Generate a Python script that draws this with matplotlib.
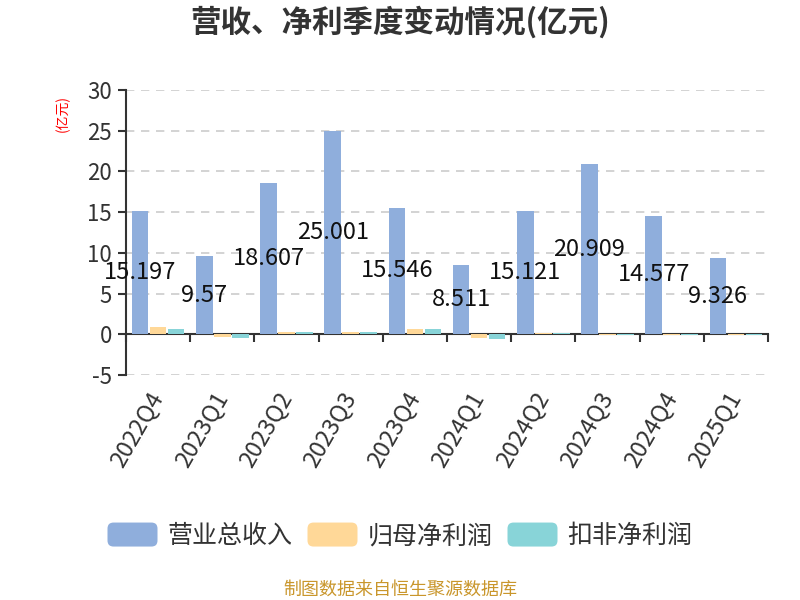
import matplotlib
matplotlib.use("Agg")
import matplotlib.pyplot as plt
import numpy as np
from matplotlib.patches import FancyBboxPatch, Patch
from matplotlib.legend_handler import HandlerPatch

plt.rcParams['font.family'] = ['Noto Sans CJK SC', 'DejaVu Sans']

categories = ["2022Q4", "2023Q1", "2023Q2", "2023Q3", "2023Q4",
              "2024Q1", "2024Q2", "2024Q3", "2024Q4", "2025Q1"]
revenue = [15.197, 9.57, 18.607, 25.001, 15.546, 8.511, 15.121, 20.909, 14.577, 9.326]
net_profit = [0.90, -0.37, 0.28, 0.30, 0.65, -0.45, 0.15, -0.08, -0.08, -0.06]
deducted_profit = [0.65, -0.45, 0.22, 0.25, 0.60, -0.55, 0.10, -0.05, -0.06, -0.08]
series_names = ["营业总收入", "归母净利润", "扣非净利润"]
colors = ["#8FAEDC", "#FFD898", "#88D4D8"]
yticks = [-5, 0, 5, 10, 15, 20, 25, 30]


class RoundHandler(HandlerPatch):
    def create_artists(self, legend, orig_handle, xdescent, ydescent, width,
                       height, fontsize, trans):
        r = min(width, height) * 0.25
        p = FancyBboxPatch((-xdescent + r, -ydescent + r), width - 2 * r, height - 2 * r,
                           boxstyle=f"round,pad={r}", facecolor=orig_handle.get_facecolor(),
                           edgecolor='none', transform=trans)
        return [p]


fig = plt.figure(figsize=(8, 6), dpi=100)
ax = fig.add_axes([0.1575, 0.375, 0.8025, 0.475])

x = np.arange(len(categories))
w = 0.26
offs = [-0.28, 0.0, 0.28]
for vals, off, c in zip([revenue, net_profit, deducted_profit], offs, colors):
    ax.bar(x + off, vals, width=w, color=c, zorder=3)

for xi, v in zip(x, revenue):
    ax.text(xi + offs[0], v / 2, f"{v:g}", ha='center', va='center',
            fontsize=17, color='#111111', zorder=5)

ax.set_xlim(-0.5, len(categories) - 0.5)
ax.set_ylim(-5, 30)
ax.set_yticks(yticks)
ax.set_yticklabels([str(t) for t in yticks])
ax.grid(axis='y', linestyle=(0, (5, 4)), color='#cccccc', linewidth=1.2, zorder=0)
ax.tick_params(axis='y', direction='out', length=6, width=1.5, color='#333333',
               labelsize=16, labelcolor='#333333', pad=4)

for s in ['top', 'right']:
    ax.spines[s].set_visible(False)
ax.spines['left'].set_color('#333333')
ax.spines['left'].set_linewidth(1.5)
ax.spines['bottom'].set_position(('data', 0))
ax.spines['bottom'].set_color('#333333')
ax.spines['bottom'].set_linewidth(1.5)

ax.set_xticks(x)
ax.set_xticklabels(categories, rotation=60, ha='right', va='center',
                   rotation_mode='anchor', fontsize=17, color='#333333')
ax.tick_params(axis='x', which='major', length=0, pad=43)
ax.set_xticks(np.arange(-0.5, len(categories)), minor=True)
ax.tick_params(axis='x', which='minor', direction='out', length=6, width=1.5,
               color='#333333')
ax.set_axisbelow(True)

fig.text(0.078, 0.81, "(亿元)", color='red', fontsize=10, rotation=90,
         ha='center', va='center')

fig.text(0.5, 0.962, "营收、净利季度变动情况(亿元)", fontsize=22, fontweight='bold',
         color='#333333', ha='center', va='center')

handles = [Patch(facecolor=c) for c in colors]
leg = fig.legend(handles, series_names, loc='center', bbox_to_anchor=(0.5, 0.107),
                 ncol=3, frameon=False, fontsize=18, handlelength=2.0, handleheight=1.1,
                 handletextpad=0.4, columnspacing=0.6, labelcolor='#333333',
                 handler_map={Patch: RoundHandler()})

fig.text(0.5, 0.003, "制图数据来自恒生聚源数据库", fontsize=13, color='#C9962B',
         ha='center', va='bottom')

fig.savefig("out.png", dpi=100)
